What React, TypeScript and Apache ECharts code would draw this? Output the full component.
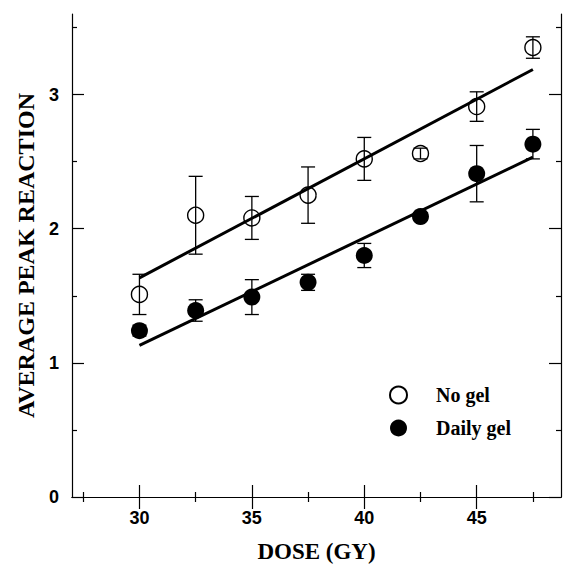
import React, { useEffect, useRef } from "react";
import * as echarts from "echarts";

const doses = [30, 32.5, 35, 37.5, 40, 42.5, 45, 47.5];
const noGel = [1.51, 2.10, 2.08, 2.25, 2.52, 2.56, 2.91, 3.35];
const noGelErr = [0.15, 0.29, 0.16, 0.21, 0.16, 0.04, 0.11, 0.08];
const dailyGel = [1.24, 1.39, 1.49, 1.60, 1.80, 2.09, 2.41, 2.63];
const dailyGelErr = [0.04, 0.08, 0.13, 0.06, 0.09, 0.03, 0.21, 0.11];
const xMajorTicks = [30, 35, 40, 45];
const xMinorTicks = [27.5, 32.5, 37.5, 42.5, 47.5];
const yMajorTicks = [0, 1, 2, 3];
const yMinorTicks = [0.5, 1.5, 2.5, 3.5];

function fitLine(xs: number[], ys: number[]) {
  const n = xs.length;
  const mx = xs.reduce((a, b) => a + b, 0) / n;
  const my = ys.reduce((a, b) => a + b, 0) / n;
  let sxy = 0;
  let sxx = 0;
  for (let i = 0; i < n; i++) {
    sxy += (xs[i] - mx) * (ys[i] - my);
    sxx += (xs[i] - mx) * (xs[i] - mx);
  }
  const b = sxy / sxx;
  const a = my - b * mx;
  const x0 = xs[0];
  const x1 = xs[n - 1];
  return [
    [x0, a + b * x0],
    [x1, a + b * x1],
  ];
}

const X_MIN = 27;
const X_MAX = 48.75;
const Y_MIN = 0;
const Y_MAX = 3.6;

export default function App() {
  const ref = useRef<HTMLDivElement>(null);
  useEffect(() => {
    if (!ref.current) return;
    const chart = echarts.init(ref.current, null, { renderer: "svg" });
    const black = "#000";
    const tickLabel = {
      color: black,
      fontFamily: "Liberation Sans, Arial, sans-serif",
      fontWeight: "bold" as const,
      fontSize: 18,
    };
    const axisLine = { show: true, lineStyle: { color: black, width: 1.2 } };
    const xAxisBase = (pos: "bottom" | "top", ticks: number[], len: number, labels: boolean, line: boolean) => ({
      type: "value" as const,
      position: pos,
      min: X_MIN,
      max: X_MAX,
      splitLine: { show: false },
      axisLine: line ? axisLine : { show: false },
      axisTick: { show: true, inside: true, length: len, customValues: ticks, lineStyle: { color: black, width: 1.2 } },
      axisLabel: labels
        ? { show: true, customValues: xMajorTicks, margin: 12, ...tickLabel }
        : { show: false },
    });
    const yAxisBase = (pos: "left" | "right", ticks: number[], len: number, labels: boolean, line: boolean) => ({
      type: "value" as const,
      position: pos,
      min: Y_MIN,
      max: Y_MAX,
      splitLine: { show: false },
      axisLine: line ? axisLine : { show: false },
      axisTick: { show: true, inside: true, length: len, customValues: ticks, lineStyle: { color: black, width: 1.2 } },
      axisLabel: labels
        ? { show: true, customValues: yMajorTicks, margin: 13, ...tickLabel }
        : { show: false },
    });

    const errItem = (params: any, api: any) => {
      const x = api.value(0);
      const y = api.value(1);
      const e = api.value(2);
      const top = api.coord([x, y + e]);
      const bot = api.coord([x, y - e]);
      const hw = 7;
      const style = { stroke: black, lineWidth: 1.3 };
      return {
        type: "group",
        children: [
          { type: "line", shape: { x1: top[0], y1: top[1], x2: bot[0], y2: bot[1] }, style },
          { type: "line", shape: { x1: top[0] - hw, y1: top[1], x2: top[0] + hw, y2: top[1] }, style },
          { type: "line", shape: { x1: bot[0] - hw, y1: bot[1], x2: bot[0] + hw, y2: bot[1] }, style },
        ],
      };
    };

    const serifBold = {
      color: black,
      fontFamily: "Liberation Serif, Times New Roman, serif",
      fontWeight: "bold" as const,
    };

    chart.setOption({
      animation: false,
      backgroundColor: "#fff",
      grid: { left: 72, right: 2, top: 14, bottom: 70, containLabel: false, outerBoundsMode: "none" },
      legend: {
        orient: "vertical",
        left: 384,
        top: 380,
        itemWidth: 17,
        itemHeight: 17,
        itemGap: 13,
        data: ["No gel", "Daily gel"],
        textStyle: { ...serifBold, fontSize: 20, padding: [0, 0, 0, 24] },
      },
      xAxis: [
        {
          ...xAxisBase("bottom", xMajorTicks, 12, true, true),
          name: "DOSE (GY)",
          nameLocation: "middle",
          nameGap: 43,
          nameTextStyle: { ...serifBold, fontSize: 23, lineHeight: 23 },
        },
        xAxisBase("bottom", xMinorTicks, 5, false, false),
        xAxisBase("top", xMajorTicks, 12, false, true),
        xAxisBase("top", xMinorTicks, 5, false, false),
      ],
      yAxis: [
        {
          ...yAxisBase("left", yMajorTicks, 12, true, true),
          name: "AVERAGE PEAK REACTION",
          nameLocation: "middle",
          nameRotate: 90,
          nameGap: 32,
          nameTextStyle: { ...serifBold, fontSize: 24 },
        },
        yAxisBase("left", yMinorTicks, 5, false, false),
        yAxisBase("right", yMajorTicks, 12, false, true),
        yAxisBase("right", yMinorTicks, 5, false, false),
      ],
      series: [
        {
          type: "custom",
          name: "noGelErr",
          xAxisIndex: 0,
          yAxisIndex: 0,
          renderItem: errItem,
          data: doses.map((d, i) => [d, noGel[i], noGelErr[i]]),
          z: 2,
          silent: true,
        },
        {
          type: "custom",
          name: "dailyGelErr",
          xAxisIndex: 0,
          yAxisIndex: 0,
          renderItem: errItem,
          data: doses.map((d, i) => [d, dailyGel[i], dailyGelErr[i]]),
          z: 2,
          silent: true,
        },
        {
          type: "line",
          name: "noGelFit",
          data: fitLine(doses, noGel),
          symbol: "none",
          lineStyle: { color: black, width: 3 },
          z: 3,
          silent: true,
        },
        {
          type: "line",
          name: "dailyGelFit",
          data: fitLine(doses, dailyGel),
          symbol: "none",
          lineStyle: { color: black, width: 3 },
          z: 3,
          silent: true,
        },
        {
          type: "scatter",
          name: "No gel",
          data: doses.map((d, i) => [d, noGel[i]]),
          symbol: "circle",
          symbolSize: 16,
          itemStyle: { color: "rgba(255,255,255,0)", borderColor: black, borderWidth: 1.4, opacity: 1 },
          z: 4,
        },
        {
          type: "scatter",
          name: "Daily gel",
          data: doses.map((d, i) => [d, dailyGel[i]]),
          symbol: "circle",
          symbolSize: 17,
          itemStyle: { color: black, opacity: 1 },
          z: 4,
        },
      ],
    });
    return () => chart.dispose();
  }, []);
  return (
    <div
      ref={ref}
      style={{ position: "fixed", left: 0, top: 0, width: 563, height: 567, background: "#fff" }}
    />
  );
}
